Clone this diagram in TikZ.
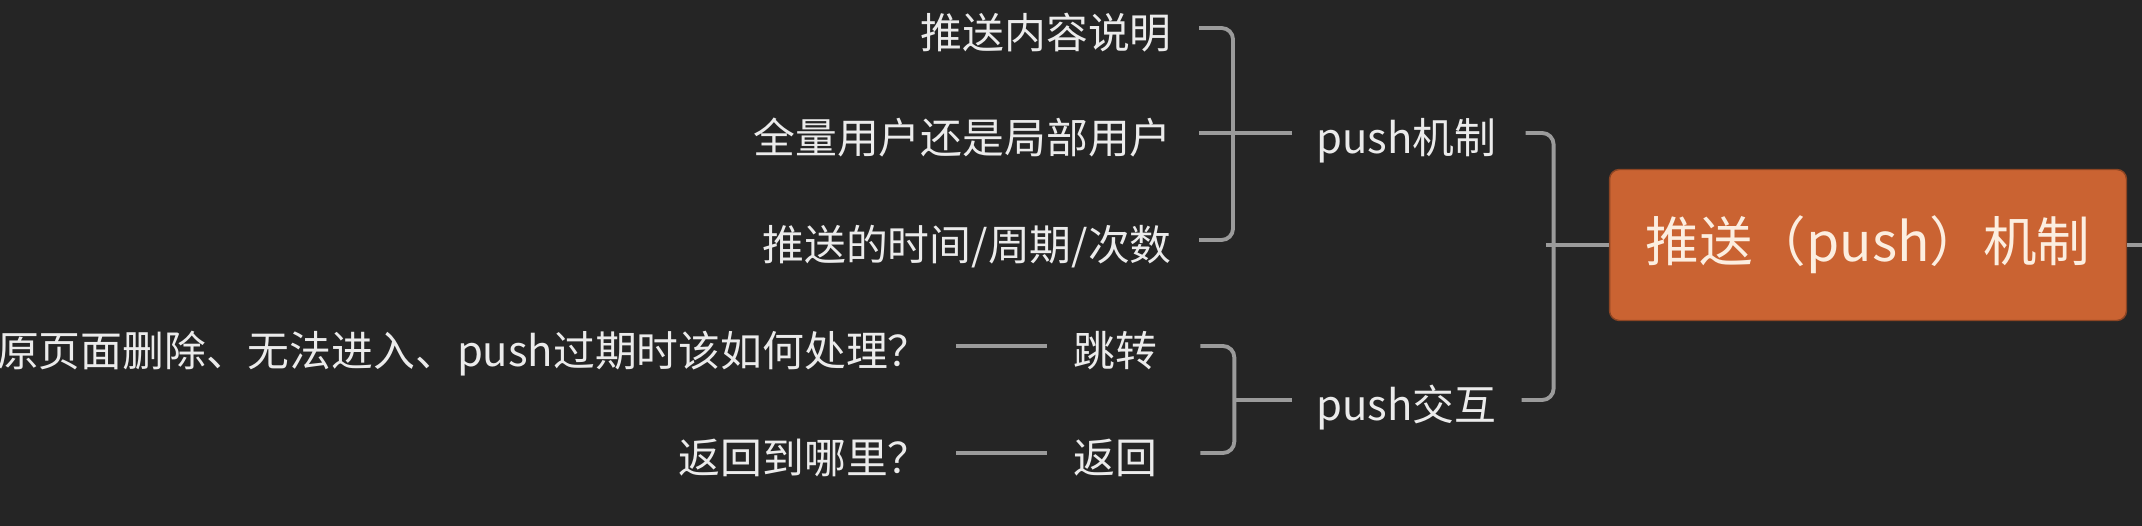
\documentclass[tikz,border=0pt]{standalone}
\usepackage{fontspec}
\setmainfont{Noto Sans CJK SC}
\usetikzlibrary{calc}
\definecolor{bgdark}{RGB}{37,37,37}
\definecolor{fgtext}{RGB}{235,235,235}
\definecolor{linegray}{RGB}{155,155,155}
\definecolor{rootfill}{RGB}{202,99,50}
\definecolor{roottext}{RGB}{252,238,224}

\begin{document}
\begin{tikzpicture}[x=0.02cm, y=-0.02cm,
        topic/.style={text=fgtext, inner sep=0pt, font=\fontsize{23.8pt}{28pt}\selectfont, text height=25pt, text depth=1.2pt},
        link/.style={draw=linegray, line width=2.2pt, rounded corners=6.5pt},
        central/.style={fill=rootfill, draw=rootfill!70!black, line width=0.8pt, rounded corners=5.5pt, text=roottext, font=\fontsize{30.5pt}{36pt}\selectfont, minimum width=10.34cm, minimum height=3.02cm}]
            \fill[bgdark] (0,0) rectangle (2142,526);
            \useasboundingbox (0,0) rectangle (2142,526);
            \node[topic, anchor=east] (content) at (1172,28) {推送内容说明};
            \node[topic, anchor=east] (users) at (1172,133) {全量用户还是局部用户};
            \node[topic, anchor=east] (timing) at (1172,240) {推送的时间/周期/次数};
            \node[topic, anchor=west] (mech) at (1316,133) {push机制};
            \node[topic, anchor=west] (inter) at (1316,400) {push交互};
            \node[topic, anchor=west] (jump) at (1073,346) {跳转};
            \node[topic, anchor=west] (back) at (1073,453) {返回};
            \node[topic, anchor=east] (jumpq) at (930,346) {原页面删除、无法进入、push过期时该如何处理？};
            \node[topic, anchor=east] (backq) at (930,453) {返回到哪里？};
            \node[central] (root) at (1868,245) {推送（push）机制};
            % brackets
            \draw[link] ($(content.east)+(27,0)$) -- ++(34,0) |- ($(timing.east)+(27,0)$);
            \draw[link] ($(users.east)+(27,0)$) -- ($(mech.west)+(-24,0)$);
            \draw[link] ($(jump.east)+(43,0)$) -- ++(34,0) |- ($(back.east)+(43,0)$);
            \draw[link] ($(inter.west)+(-24,0)$) -- ++(-59,0);
            \draw[link] ($(mech.east)+(29,0)$) -- ++(28,0) |- ($(inter.east)+(25,0)$);
            \draw[link] (root.west) -- ++(-63,0);
            \draw[link] (root.east) -- ++(20,0);
            % questions
            \draw[link] ($(jumpq.east)+(26,0)$) -- ($(jump.west)+(-26,0)$);
            \draw[link] ($(backq.east)+(26,0)$) -- ($(back.west)+(-26,0)$);
        \end{tikzpicture}
\end{document}
